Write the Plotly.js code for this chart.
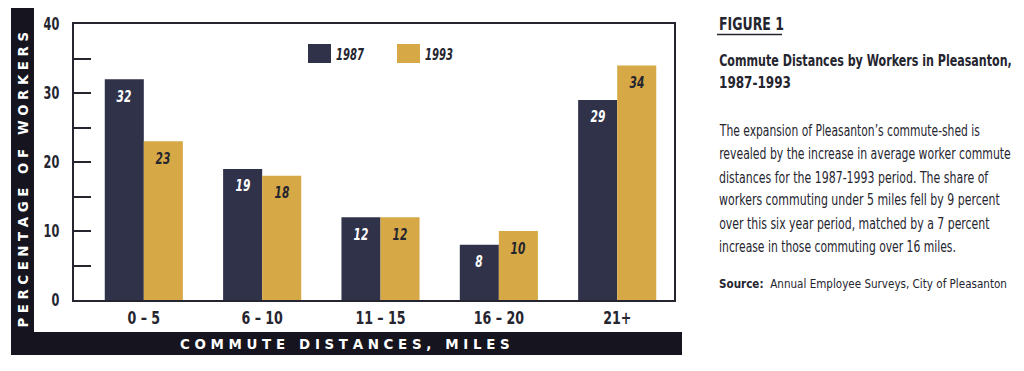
<!DOCTYPE html>
<html><head><meta charset="utf-8">
<script src="https://cdn.plot.ly/plotly-3.0.1.min.js"></script>
<style>html,body{margin:0;padding:0;background:#fff}#chart{width:1024px;height:371px}</style>
</head><body><div id="chart"></div>
<script>
// ---- data ----
const categories = ['0 – 5', '6 – 10', '11 – 15', '16 – 20', '21+'];
const seriesNames = ['1987', '1993'];
const values1987 = [32, 19, 12, 8, 29];
const values1993 = [23, 18, 12, 10, 34];
const yTickVals = [0, 5, 10, 15, 20, 25, 30, 35, 40];
const yTickText = ['0', '', '10', '', '20', '', '30', '', '40'];
const yTitle = 'PERCENTAGE OF WORKERS';
const xTitle = 'COMMUTE DISTANCES, MILES';
const figLabel = 'FIGURE 1';
const titleLines = ['Commute Distances by Workers in Pleasanton,', '1987-1993'];
const bodyLines = [
  'The expansion of Pleasanton\u2019s commute-shed is',
  'revealed by the increase in average worker commute',
  'distances for the 1987-1993 period. The share of',
  'workers commuting under 5 miles fell by 9 percent',
  'over this six year period, matched by a 7 percent',
  'increase in those commuting over 16 miles.'
];
const sourceLabel = 'Source:';
const sourceText = 'Annual Employee Surveys, City of Pleasanton';

// ---- styles ----
const DARK = '#30324a';
const GOLD = '#d6a946';
const INK = '#25252f';
const BAND = '#15141f';
const COND = "'DejaVu Sans Condensed','DejaVu Sans',sans-serif";
const REG = "'DejaVu Sans',sans-serif";

const L = 74, R = 674, T = 24, B = 300;
const px = x => (x - L) / (R - L);
const py = y => (B - y) / (B - T);
const NB = '\u00a0';
const spaced = s => s.split(' ').map(w => w.split('').join(NB)).join(NB + NB + NB);

const traces = [
  {type: 'bar', name: seriesNames[0], x: categories, y: values1987, marker: {color: DARK}, hoverinfo: 'none'},
  {type: 'bar', name: seriesNames[1], x: categories, y: values1993, marker: {color: GOLD}, hoverinfo: 'none'}
];

const ann = [];
const meta = []; // horizontal compression per annotation (condensed look)
const shapes = [];
function addAnn(a, m) { ann.push(a); meta.push(m || null); }

// value labels
[values1987, values1993].forEach((vals, si) => {
  vals.forEach((v, i) => {
    addAnn({xref: 'x', yref: 'y', x: categories[i], y: v, xshift: si === 0 ? -19.5 : 19.5, yshift: -17,
      yanchor: 'middle', xanchor: 'center', showarrow: false, text: String(v),
      font: {family: COND, size: 16, weight: 'bold', style: 'italic', color: si === 0 ? '#ffffff' : INK}},
      {f: 0.74, anchor: 'middle'});
  });
});
// legend
const legX = [308, 397];
seriesNames.forEach((n, i) => {
  shapes.push({type: 'rect', xref: 'paper', yref: 'paper', x0: px(legX[i]), x1: px(legX[i] + 23), y0: py(63), y1: py(44),
    fillcolor: i === 0 ? DARK : GOLD, line: {width: 0}});
  addAnn({xref: 'paper', yref: 'paper', x: px(legX[i] + 26), y: py(54), xanchor: 'left', yanchor: 'middle', showarrow: false,
    text: n, font: {family: COND, size: 16, weight: 'bold', style: 'italic', color: INK}}, {w: 28, anchor: 'start'});
});
// dark bands
shapes.push({type: 'rect', xref: 'paper', yref: 'paper', x0: px(11), x1: px(34), y0: py(355), y1: py(8), fillcolor: BAND, line: {width: 0}, layer: 'below'});
shapes.push({type: 'rect', xref: 'paper', yref: 'paper', x0: px(11), x1: px(682), y0: py(355), y1: py(332), fillcolor: BAND, line: {width: 0}, layer: 'below'});
addAnn({xref: 'paper', yref: 'paper', x: px(23), y: py(180), textangle: -90, showarrow: false, xanchor: 'center', yanchor: 'middle',
  text: spaced(yTitle), font: {family: COND, size: 14, weight: 'bold', color: '#ffffff'}}, {w: 296, anchor: 'middle'});
addAnn({xref: 'paper', yref: 'paper', x: px(345), y: py(344), showarrow: false, xanchor: 'center', yanchor: 'middle',
  text: spaced(xTitle), font: {family: COND, size: 14, weight: 'bold', color: '#ffffff'}}, {w: 330, anchor: 'middle'});
// right text
const TX = 717;
addAnn({xref: 'paper', yref: 'paper', x: px(TX), y: py(24), xanchor: 'left', yanchor: 'middle', showarrow: false,
  text: figLabel, font: {family: COND, size: 17, weight: 'bold', color: INK}}, {w: 65, anchor: 'start'});
shapes.push({type: 'line', xref: 'paper', yref: 'paper', x0: px(TX), x1: px(782), y0: py(34.5), y1: py(34.5), line: {color: INK, width: 1.5}});
const titleY = [60, 83];
const titleW = [293, 72];
titleLines.forEach((t, i) => addAnn({xref: 'paper', yref: 'paper', x: px(TX), y: py(titleY[i]), xanchor: 'left', yanchor: 'middle', showarrow: false,
  text: t, font: {family: COND, size: 16.5, weight: 'bold', color: INK}}, {w: titleW[i], anchor: 'start'}));
const bodyY = [130, 153, 177, 200, 223, 246];
const bodyW = [261, 292, 270, 281, 271, 237];
bodyLines.forEach((t, i) => addAnn({xref: 'paper', yref: 'paper', x: px(TX), y: py(bodyY[i]), xanchor: 'left', yanchor: 'middle', showarrow: false,
  text: t, font: {family: COND, size: 16, color: INK}}, {w: bodyW[i], anchor: 'start'}));
addAnn({xref: 'paper', yref: 'paper', x: px(TX), y: py(283), xanchor: 'left', yanchor: 'middle', showarrow: false,
  text: '<b>' + sourceLabel + '</b>' + NB + NB + sourceText, font: {family: REG, size: 13, color: INK}}, {w: 288, anchor: 'start'});

const layout = {
  width: 1024, height: 371,
  margin: {l: L, r: 1024 - R, t: T, b: 371 - B, pad: 0},
  paper_bgcolor: '#ffffff', plot_bgcolor: '#ffffff',
  showlegend: false,
  barmode: 'group', bargap: 0.34, bargroupgap: 0,
  xaxis: {type: 'category', range: [-0.59, 4.48], showline: true, mirror: true, linecolor: INK, linewidth: 2,
    ticks: '', showgrid: false, zeroline: false, fixedrange: true, ticklabelstandoff: 0,
    tickfont: {family: COND, size: 18, weight: 'bold', color: INK}},
  yaxis: {range: [0, 40], tickvals: yTickVals, ticktext: yTickText, ticks: 'inside', ticklen: 17, tickwidth: 2, tickcolor: INK,
    showline: true, mirror: true, linecolor: INK, linewidth: 2, showgrid: false, zeroline: false, fixedrange: true,
    ticklabelstandoff: 9, tickfont: {family: COND, size: 18.5, weight: 'bold', color: INK}},
  shapes: shapes, annotations: ann
};

function squeeze(el, factor, anchor) {
  const bb = el.getBBox();
  if (!bb.width) return;
  const ax = anchor === 'start' ? bb.x : anchor === 'end' ? bb.x + bb.width : bb.x + bb.width / 2;
  const prev = el.getAttribute('transform') || '';
  el.setAttribute('transform', (prev + ' translate(' + ax + ',0) scale(' + factor + ',1) translate(' + (-ax) + ',0)').trim());
}

const gd = document.getElementById('chart');
Plotly.newPlot(gd, traces, layout, {displayModeBar: false, staticPlot: true}).then(() => {
  gd.querySelectorAll('.annotation').forEach(g => {
    const idx = +g.getAttribute('data-index');
    const m = meta[idx];
    const t = g.querySelector('text');
    if (!m || !t) return;
    const w = t.getBBox().width;
    squeeze(t, m.w ? m.w / w : m.f, m.anchor);
  });
  gd.querySelectorAll('.ytick text').forEach(t => squeeze(t, 0.68, 'end'));
  gd.querySelectorAll('.xtick text').forEach(t => squeeze(t, 0.78, 'middle'));
});
</script></body></html>
